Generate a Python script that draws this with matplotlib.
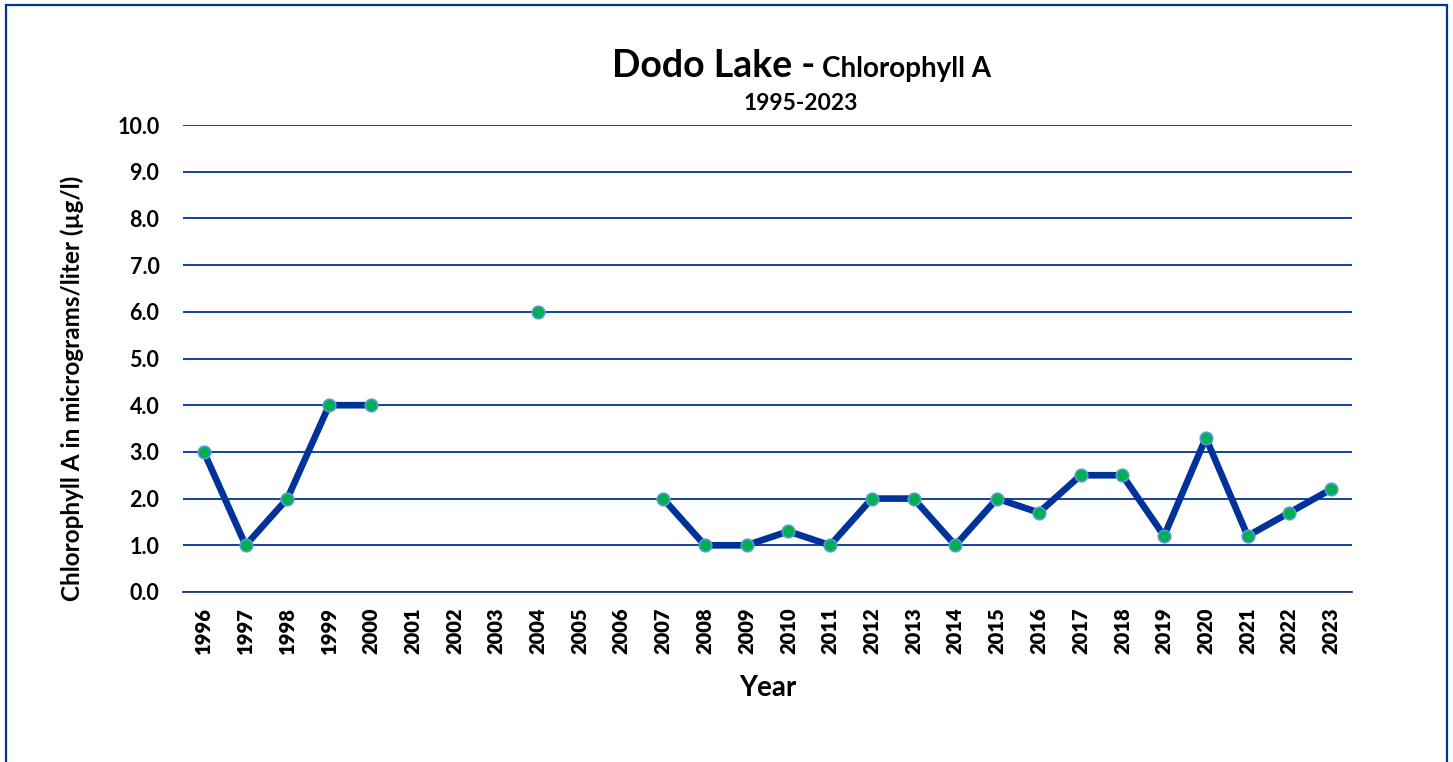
import numpy as np
import matplotlib.pyplot as plt
from matplotlib.patches import Rectangle

plt.rcParams['font.family'] = ['Lato', 'DejaVu Sans']
plt.rcParams['font.weight'] = 'bold'

years = [str(y) for y in range(1996, 2024)]
chl = [3.0, 1.0, 2.0, 4.0, 4.0, np.nan, np.nan, np.nan, 6.0, np.nan, np.nan,
       2.0, 1.0, 1.0, 1.3, 1.0, 2.0, 2.0, 1.0, 2.0, 1.7, 2.5, 2.5, 1.2, 3.3,
       1.2, 1.7, 2.2]
yticks = [0, 1, 2, 3, 4, 5, 6, 7, 8, 9, 10]

navy = '#003399'

fig = plt.figure(figsize=(14.53, 7.62), dpi=100)
W, H = 1453, 762

# outer frame (bottom edge falls outside the image)
fig.patches.append(Rectangle((6 / W, -0.05), (1447 - 6) / W, 1 - 5 / H + 0.05,
                             transform=fig.transFigure, fill=False,
                             edgecolor=navy, linewidth=1.6))

ax = fig.add_axes([183 / W, 1 - 592 / H, (1352 - 183) / W, (592 - 125) / H])
x = np.arange(len(years))
ax.plot(x, chl, color=navy, linewidth=4.8, marker='o', markersize=9,
        markerfacecolor='#00B050', markeredgecolor='#5B9BD5',
        markeredgewidth=1.2, zorder=3)

ax.set_xlim(-0.5, len(years) - 0.5)
ax.set_ylim(0, 10)
ax.set_yticks(yticks)
ax.set_yticklabels([f'{v:.1f}' for v in yticks], fontweight='bold')
ax.set_xticks(x)
ax.set_xticklabels(years, rotation=90, fontweight='heavy')
ax.grid(axis='y', color=navy, linewidth=1.3)
ax.set_axisbelow(True)
for s in ['top', 'right', 'left']:
    ax.spines[s].set_visible(False)
ax.spines['bottom'].set_color('#1f3a6e')
ax.spines['bottom'].set_linewidth(1.3)
ax.tick_params(axis='y', length=0, labelsize=15.5, pad=17)
ax.tick_params(axis='x', length=0, labelsize=14.5, pad=11)

ax.set_ylabel('Chlorophyll A in micrograms/liter (µg/l)', fontsize=17.5,
              fontweight='bold')
ax.yaxis.set_label_coords(-0.0847, 0.435)
ax.set_xlabel('Year', fontsize=20, fontweight='bold')
ax.xaxis.set_label_coords(0.5, -0.178)

fig.text(815 / W, 1 - 77 / H, 'Dodo Lake -', fontsize=27, fontweight='bold',
         ha='right', va='baseline')
fig.text(822 / W, 1 - 77 / H, 'Chlorophyll A', fontsize=20, fontweight='bold',
         ha='left', va='baseline')
fig.text(801 / W, 1 - 110 / H, '1995-2023', fontsize=16.5, fontweight='bold',
         ha='center', va='baseline')

fig.savefig('out.png', dpi=100)
